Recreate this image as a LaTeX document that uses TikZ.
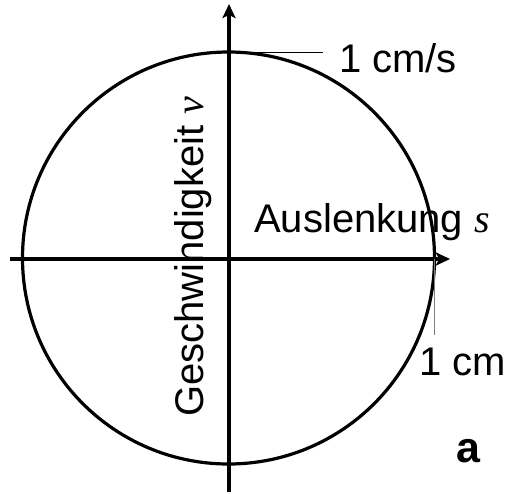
\documentclass[tikz,border=0pt]{standalone}
\usepackage{fontspec}
\setmainfont{Liberation Sans}
\newfontfamily\serifit{Liberation Serif}
\usetikzlibrary{arrows.meta}
\begin{document}
\begin{tikzpicture}[x=1pt,y=-1pt,
  thick line/.style={line width=3.2pt},
  axis/.style={thick line,-{Stealth[length=14pt,width=13pt,inset=3pt]}},
  tick/.style={line width=1pt},
  lbl/.style={inner sep=0pt,font=\fontsize{40}{44}\selectfont},
]
\useasboundingbox (0,0) rectangle (513,493);
\coordinate (O) at (228.5,258);
\coordinate (L) at (10,259);
\coordinate (R) at (450,259);
\coordinate (B) at (229,492);
\coordinate (T) at (229,4);
\coordinate (top) at (229,52);
\coordinate (topend) at (323,52);
\coordinate (rgt) at (434,259);
\coordinate (rgtend) at (434,335);
\draw[thick line] (O) circle[radius=206];
\draw[axis] (L) -- (R);
\draw[axis] (B) -- (T);
\draw[tick] (top) -- (topend);
\draw[tick,gray] (rgt) -- (rgtend);
\node[lbl,anchor=base west] (cms) at (339,72) {1 cm/s};
\node[lbl,anchor=base west] (cm) at (419,375) {1 cm};
\node[lbl,anchor=base west] (ausl) at (254,232) {Auslenkung {\serifit\itshape s}};
\node[lbl,anchor=base west,rotate=90] (gesch) at (203,417) {Geschwindigkeit {\serifit\itshape v}};
\node[inner sep=0pt,anchor=base west,font=\fontsize{43}{46}\selectfont\bfseries] (a) at (456,462) {a};
\end{tikzpicture}
\end{document}
